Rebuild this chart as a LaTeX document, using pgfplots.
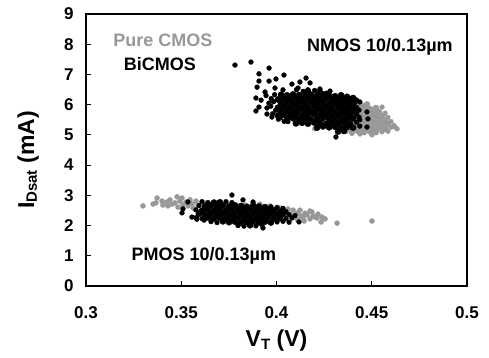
\documentclass[border=0pt]{standalone}
\usepackage{pgfplots}
\pgfplotsset{compat=1.18}
\usepackage{fontspec}
\setmainfont{Liberation Sans}
\definecolor{cmosgray}{RGB}{152,152,152}
\begin{document}
\begin{tikzpicture}
\path[use as bounding box] (-86pt,-72pt) rectangle (403pt,286pt);
\begin{axis}[
  at={(0pt,0pt)}, anchor=south west,
  scale only axis, width=381pt, height=272pt,
  xmin=0.3, xmax=0.5, ymin=0, ymax=9,
  xtick={0.3,0.35,0.4,0.45,0.5},
  xticklabels={0.3,0.35,0.4,0.45,0.5},
  ytick={0,1,...,9},
  xtick pos=bottom, ytick pos=left,
  tick align=inside, major tick length=5pt,
  axis line style={line width=1.1pt},
  every tick/.style={line width=0.9pt, black},
  /pgf/number format/assume math mode=true,
  tick label style={font=\bfseries\fontsize{17}{17}\selectfont},
  xticklabel style={yshift=-17pt},
  yticklabel style={xshift=-9pt},
  xlabel={V{\fontsize{15}{15}\selectfont\raisebox{-0.35ex}{T}} (V)},
  ylabel={I{\fontsize{15}{15}\selectfont\raisebox{-0.35ex}{Dsat}} (mA)},
  label style={font=\bfseries\fontsize{23}{23}\selectfont},
  xlabel style={at={(axis description cs:0.5,-0.2)}, anchor=center},
  ylabel style={at={(axis description cs:-0.152,0.463)}, anchor=center, rotate=0},
  clip=false,
]
% Pure CMOS, NMOS (dense part)
\addplot[only marks, mark=*, mark size=3.0pt, color=cmosgray] coordinates {
(0.4333,6.16) (0.4365,6.13) (0.4396,6.10)
(0.4349,6.03) (0.4381,6.00) (0.4412,6.04) (0.4444,5.99) (0.4475,6.01)
(0.4333,5.90) (0.4365,5.87) (0.4396,5.91) (0.4428,5.88) (0.4459,5.90) (0.4491,5.86) (0.4522,5.89)
(0.4349,5.77) (0.4381,5.74) (0.4412,5.78) (0.4444,5.75) (0.4475,5.77) (0.4507,5.74) (0.4538,5.76)
(0.4333,5.64) (0.4365,5.61) (0.4396,5.65) (0.4428,5.62) (0.4459,5.64) (0.4491,5.60) (0.4522,5.63) (0.4554,5.61)
(0.4349,5.50) (0.4381,5.47) (0.4412,5.51) (0.4444,5.48) (0.4475,5.50) (0.4507,5.46) (0.4538,5.49) (0.4570,5.47)
(0.4333,5.37) (0.4365,5.34) (0.4396,5.38) (0.4428,5.35) (0.4459,5.37) (0.4491,5.33) (0.4522,5.36) (0.4554,5.34) (0.4585,5.37)
(0.4349,5.24) (0.4381,5.21) (0.4412,5.25) (0.4444,5.22) (0.4475,5.24) (0.4507,5.20) (0.4538,5.23) (0.4570,5.21)
(0.4396,5.10) (0.4428,5.12) (0.4459,5.09) (0.4491,5.11) (0.4522,5.09)
};
% Pure CMOS, NMOS (edge points)
\addplot[only marks, mark=*, mark size=2.4pt, color=cmosgray] coordinates {
(0.4554,5.92) (0.4570,5.72) (0.4585,5.58) (0.4601,5.44) (0.4617,5.31) (0.4601,5.25)
(0.4365,5.11) (0.4554,5.10) (0.4585,5.12) (0.4396,5.05)
(0.4360,6.22) (0.4633,5.20) (0.4622,5.26) (0.4438,5.03) (0.4501,5.00) (0.4290,6.10) (0.4250,5.30) (0.4200,5.20)
};
% Pure CMOS, PMOS
\addplot[only marks, mark=*, mark size=2.5pt, color=cmosgray] coordinates {
(0.3299,2.65) (0.3352,2.71) (0.3367,2.75) (0.3373,2.91) (0.3399,2.81) (0.3404,2.68)
(0.3425,2.78) (0.3430,2.65) (0.3441,2.85) (0.3451,2.71) (0.3467,2.75) (0.3478,2.95)
(0.3483,2.61) (0.3493,2.81) (0.3504,2.91) (0.3509,2.68) (0.3525,2.78) (0.3535,2.65)
(0.3546,2.85) (0.3556,2.71) (0.3562,2.58) (0.3577,2.81) (0.3588,2.68) (0.3609,2.51)
(0.3619,2.75) (0.3640,2.65) (0.3661,2.71)
(0.3703,2.58) (0.3756,2.61) (0.3808,2.51) (0.3861,2.55) (0.3835,2.68) (0.3887,2.65)
(0.3913,2.71) (0.3940,2.61) (0.3966,2.65) (0.3992,2.51) (0.4018,2.58) (0.4039,2.45)
(0.4060,2.55) (0.4071,2.38) (0.4087,2.51) (0.4097,2.28) (0.4108,2.41) (0.4123,2.51)
(0.4129,2.32) (0.4139,2.25) (0.4150,2.41) (0.4160,2.35) (0.4176,2.48) (0.4176,2.22)
(0.4186,2.45) (0.4192,2.32) (0.4202,2.28) (0.4213,2.25) (0.4218,2.38) (0.4234,2.12)
(0.4239,2.28) (0.4255,2.22) (0.4050,2.28) (0.4018,2.38) (0.4110,2.20) (0.4145,2.15)
(0.4318,2.08) (0.4501,2.15)
};
% BiCMOS, NMOS (outliers and ragged edge)
\addplot[only marks, mark=*, mark size=2.4pt, color=black] coordinates {
(0.3782,7.31) (0.3866,7.41) (0.3961,7.21) (0.3908,7.02) (0.4039,6.98) (0.3997,6.85)
(0.3961,6.78) (0.3908,6.78) (0.4155,6.88) (0.4123,6.75) (0.4081,6.68) (0.3898,6.58)
(0.3992,6.55) (0.4034,6.49) (0.4113,6.55) (0.4165,6.49) (0.3940,6.42) (0.3892,6.22)
(0.3919,6.15) (0.3892,5.79) (0.3908,5.92) (0.3950,5.89) (0.3950,5.69) (0.3976,5.59)
(0.4228,6.52) (0.4281,6.45) (0.4176,6.72) (0.4312,4.93) (0.4475,5.76) (0.4480,5.53)
(0.4475,5.26) (0.4433,5.59) (0.4040,5.45) (0.4010,5.52) (0.3960,6.05) (0.3945,6.30)
(0.3990,6.33) (0.3972,6.20) (0.3985,6.10) (0.3970,5.95) (0.3996,5.82) (0.3980,5.70)
(0.4020,5.57) (0.4060,5.44) (0.4105,6.50) (0.4140,6.44) (0.4200,6.47) (0.4262,6.38)
(0.4437,6.09) (0.4433,5.82) (0.4420,5.69) (0.4437,5.50) (0.4420,5.42) (0.4437,5.29)
};
% BiCMOS, NMOS (dense part)
\addplot[only marks, mark=*, mark size=3.1pt, color=black] coordinates {
(0.4165,6.45) (0.4228,6.42)
(0.4024,6.33) (0.4055,6.31) (0.4087,6.34) (0.4118,6.32) (0.4150,6.30) (0.4181,6.33) (0.4213,6.31) (0.4244,6.34) (0.4276,6.30) (0.4307,6.28) (0.4339,6.31) (0.4370,6.26) (0.4402,6.22)
(0.4008,6.17) (0.4039,6.20) (0.4071,6.18) (0.4102,6.21) (0.4134,6.17) (0.4165,6.20) (0.4197,6.18) (0.4228,6.19) (0.4260,6.21) (0.4291,6.17) (0.4323,6.19) (0.4354,6.16) (0.4386,6.18) (0.4417,6.14)
(0.4024,6.04) (0.4055,6.07) (0.4087,6.05) (0.4118,6.06) (0.4150,6.04) (0.4181,6.08) (0.4213,6.05) (0.4244,6.07) (0.4276,6.04) (0.4307,6.06) (0.4339,6.05) (0.4370,6.07) (0.4402,6.03)
(0.4008,5.90) (0.4039,5.93) (0.4071,5.91) (0.4102,5.94) (0.4134,5.90) (0.4165,5.92) (0.4197,5.95) (0.4228,5.91) (0.4260,5.93) (0.4291,5.90) (0.4323,5.93) (0.4354,5.91) (0.4386,5.94) (0.4417,5.90)
(0.4024,5.77) (0.4055,5.80) (0.4087,5.78) (0.4118,5.81) (0.4150,5.77) (0.4181,5.79) (0.4213,5.82) (0.4244,5.78) (0.4276,5.80) (0.4307,5.77) (0.4339,5.79) (0.4370,5.81) (0.4402,5.78)
(0.4008,5.64) (0.4039,5.67) (0.4071,5.65) (0.4102,5.68) (0.4134,5.64) (0.4165,5.66) (0.4197,5.69) (0.4228,5.65) (0.4260,5.67) (0.4291,5.64) (0.4323,5.66) (0.4354,5.68) (0.4386,5.65)
(0.4055,5.51) (0.4087,5.55) (0.4118,5.52) (0.4150,5.54) (0.4181,5.51) (0.4213,5.53) (0.4244,5.55) (0.4276,5.52) (0.4307,5.54) (0.4339,5.51) (0.4370,5.53) (0.4402,5.55)
(0.4102,5.38) (0.4134,5.40) (0.4165,5.37) (0.4197,5.41) (0.4228,5.39) (0.4260,5.36) (0.4291,5.40) (0.4323,5.38) (0.4354,5.41) (0.4386,5.37)
(0.4213,5.24) (0.4244,5.28) (0.4276,5.25) (0.4307,5.27) (0.4339,5.23) (0.4370,5.26) (0.4402,5.24)
(0.4323,5.11) (0.4354,5.13)
};
% BiCMOS, PMOS (dense part)
\addplot[only marks, mark=*, mark size=3.1pt, color=black] coordinates {
(0.3672,2.76) (0.3703,2.77)
(0.3625,2.63) (0.3656,2.67) (0.3688,2.64) (0.3719,2.66) (0.3751,2.63) (0.3782,2.67) (0.3814,2.65) (0.3845,2.62) (0.3877,2.66) (0.3908,2.63) (0.3940,2.61)
(0.3609,2.49) (0.3640,2.53) (0.3672,2.50) (0.3703,2.52) (0.3735,2.49) (0.3766,2.51) (0.3798,2.53) (0.3829,2.50) (0.3861,2.52) (0.3892,2.49) (0.3924,2.51) (0.3955,2.53) (0.3987,2.50)
(0.3593,2.39) (0.3625,2.36) (0.3656,2.40) (0.3688,2.37) (0.3719,2.39) (0.3751,2.36) (0.3782,2.38) (0.3814,2.40) (0.3845,2.37) (0.3877,2.39) (0.3908,2.36) (0.3940,2.38) (0.3971,2.40) (0.4003,2.37) (0.4034,2.39)
(0.3640,2.27) (0.3672,2.24) (0.3703,2.26) (0.3735,2.23) (0.3766,2.25) (0.3798,2.27) (0.3829,2.24) (0.3861,2.26) (0.3892,2.23) (0.3924,2.25) (0.3955,2.27) (0.3987,2.24) (0.4018,2.26)
(0.3719,2.14) (0.3751,2.11) (0.3782,2.13) (0.3814,2.10) (0.3845,2.12) (0.3877,2.14) (0.3908,2.11) (0.3940,2.13) (0.3971,2.10)
(0.3861,2.01)
};
% BiCMOS, PMOS (edge points)
\addplot[only marks, mark=*, mark size=2.4pt, color=black] coordinates {
(0.3609,2.79) (0.3640,2.76) (0.3735,2.79) (0.3766,2.76) (0.3593,2.66) (0.3971,2.62)
(0.4003,2.60) (0.4034,2.57) (0.4018,2.48) (0.4050,2.46) (0.4066,2.36) (0.4097,2.33)
(0.3577,2.52) (0.3577,2.26) (0.3609,2.23) (0.4050,2.23) (0.4081,2.25)
(0.3656,2.13) (0.3688,2.10) (0.4003,2.12) (0.4034,2.14) (0.4066,2.11)
(0.3798,2.00) (0.3829,1.98) (0.3892,1.99) (0.3924,2.02)
(0.3766,3.01) (0.3824,2.85) (0.3877,2.78) (0.3929,1.92) (0.4118,2.12) (0.3535,2.78)
(0.3509,2.55) (0.3504,2.42) (0.3556,2.28) (0.3582,2.21) (0.3620,2.18)
};
\node[font=\bfseries\fontsize{18}{18}\selectfont, text=cmosgray] at (axis cs:0.3404,8.14) {Pure CMOS};
\node[font=\bfseries\fontsize{18}{18}\selectfont] at (axis cs:0.3388,7.35) {BiCMOS};
\node[font=\bfseries\fontsize{18}{18}\selectfont] at (axis cs:0.4543,7.91) {NMOS 10/0.13µm};
\node[font=\bfseries\fontsize{18}{18}\selectfont] at (axis cs:0.3619,0.99) {PMOS 10/0.13µm};
\end{axis}
\end{tikzpicture}
\end{document}
